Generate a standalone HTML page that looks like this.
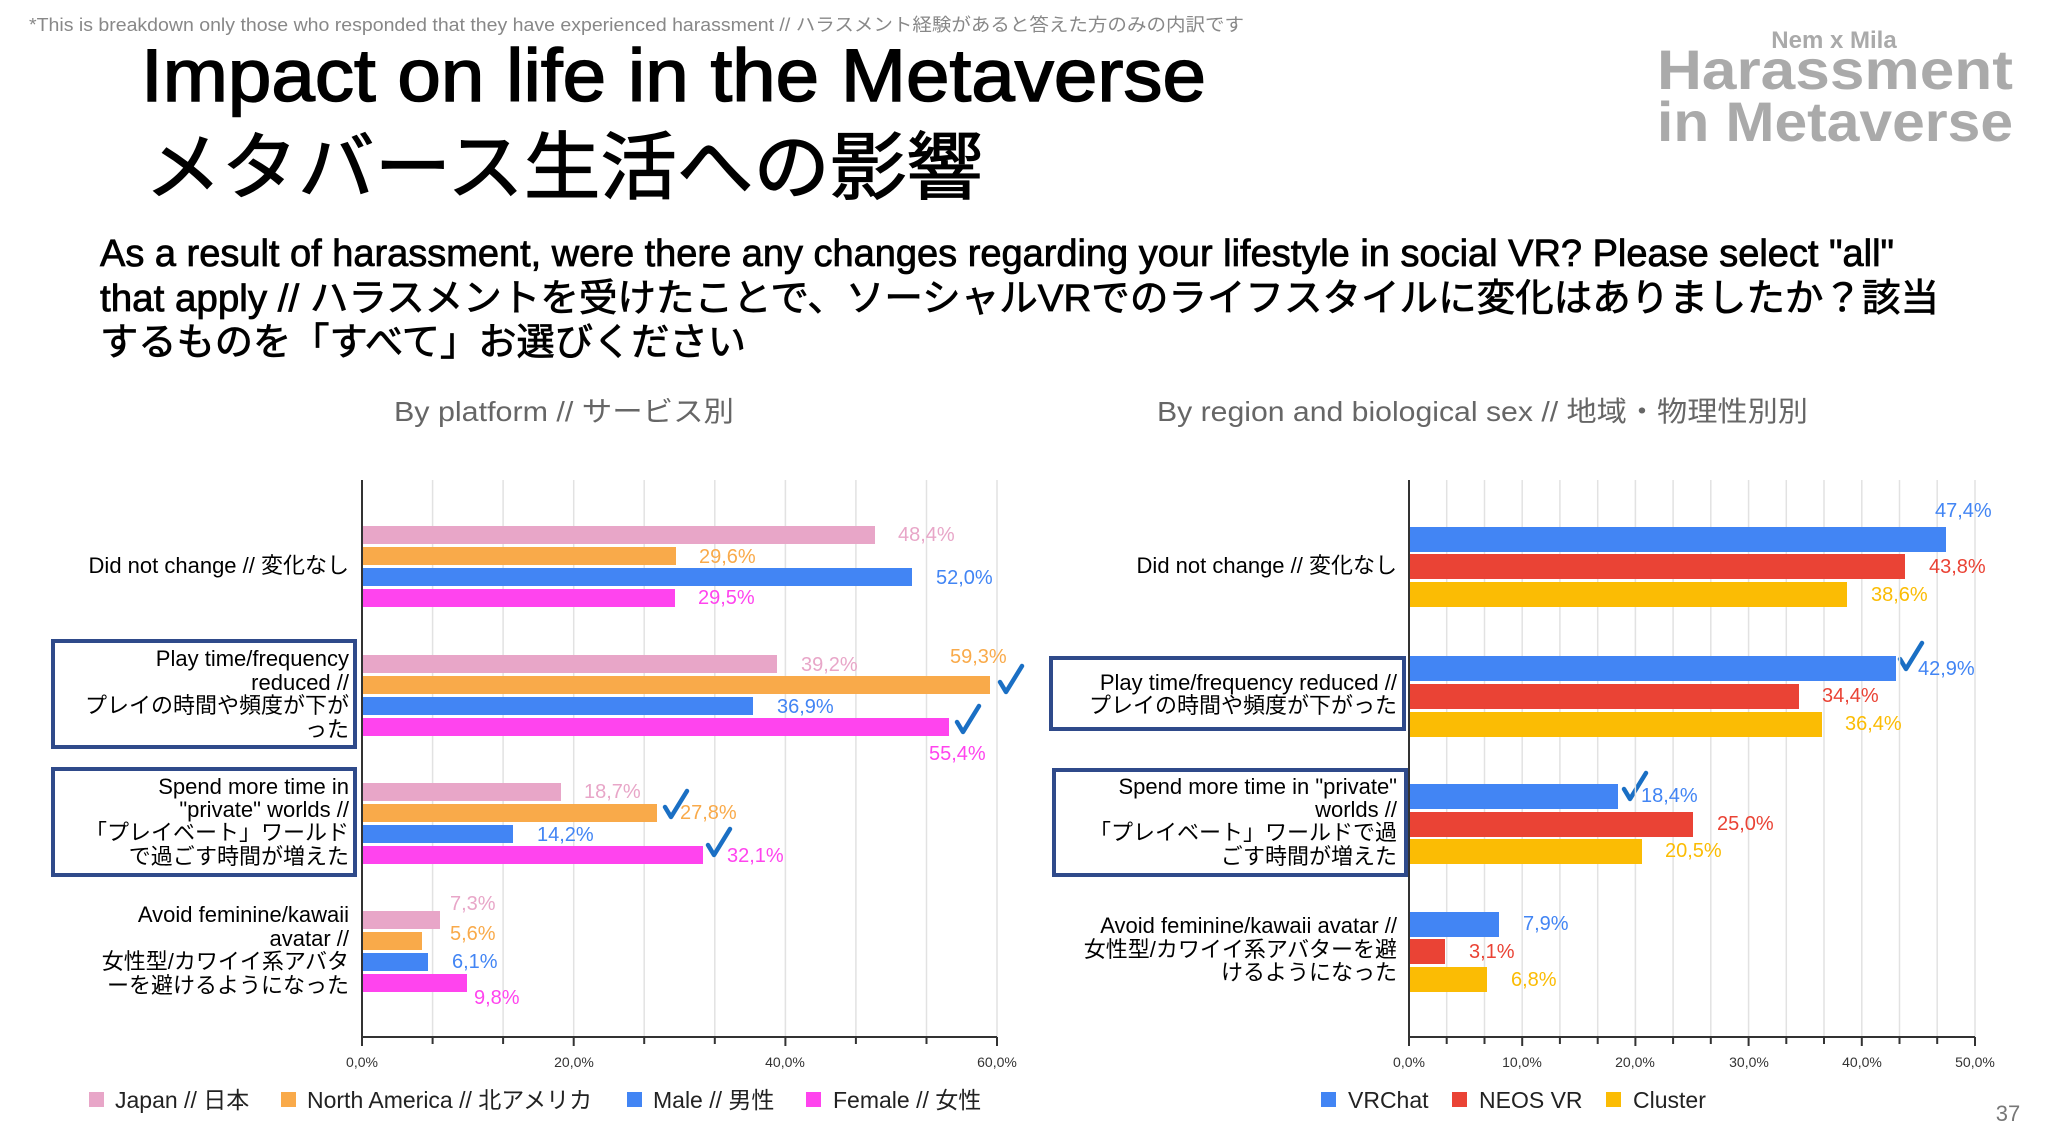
<!DOCTYPE html>
<html><head><meta charset="utf-8"><style>
html,body{margin:0;padding:0;background:#fff;}
svg{display:block;}
text{font-family:"Liberation Sans","Noto Sans CJK JP",sans-serif;}
</style></head><body>
<svg width="2048" height="1146" viewBox="0 0 2048 1146" xmlns="http://www.w3.org/2000/svg">
<rect width="2048" height="1146" fill="#fff"/>
<text x="29" y="31" font-size="18" fill="#888" textLength="1215" lengthAdjust="spacingAndGlyphs">*This is breakdown only those who responded that they have experienced harassment // ハラスメント経験があると答えた方のみの内訳です</text>
<text x="141" y="101" font-size="74" fill="#000" stroke="#000" stroke-width="1.5" textLength="1065" lengthAdjust="spacingAndGlyphs">Impact on life in the Metaverse</text>
<text x="145" y="193" font-size="74" fill="#000" stroke="#000" stroke-width="1.2" textLength="838" lengthAdjust="spacingAndGlyphs">メタバース生活への影響</text>
<g stroke="#000" stroke-width="0.8">
<text x="100" y="266" font-size="38" fill="#000" textLength="1794" lengthAdjust="spacingAndGlyphs">As a result of harassment, were there any changes regarding your lifestyle in social VR? Please select "all"</text>
<text x="100" y="311" font-size="38" fill="#000" textLength="1839" lengthAdjust="spacingAndGlyphs">that apply // ハラスメントを受けたことで、ソーシャルVRでのライフスタイルに変化はありましたか？該当</text>
<text x="100" y="355" font-size="38" fill="#000" textLength="646" lengthAdjust="spacingAndGlyphs">するものを「すべて」お選びください</text>
</g>
<text x="1834" y="48" font-size="24" font-weight="bold" fill="#aaa" text-anchor="middle">Nem x Mila</text>
<text x="1657" y="89" font-size="56" font-weight="bold" fill="#aaa" textLength="356" lengthAdjust="spacingAndGlyphs">Harassment</text>
<text x="1657" y="141" font-size="56" font-weight="bold" fill="#aaa" textLength="356" lengthAdjust="spacingAndGlyphs">in Metaverse</text>
<text x="394" y="421" font-size="28" fill="#666" textLength="340" lengthAdjust="spacingAndGlyphs">By platform // サービス別</text>
<text x="1157" y="421" font-size="28" fill="#666" textLength="651" lengthAdjust="spacingAndGlyphs">By region and biological sex // 地域・物理性別別</text>
<text x="2008" y="1121" font-size="22" fill="#777" text-anchor="middle">37</text>

<g stroke="#e2e2e2" stroke-width="1.5">
<line x1="432.6" y1="480" x2="432.6" y2="1037"/><line x1="503.1" y1="480" x2="503.1" y2="1037"/><line x1="573.7" y1="480" x2="573.7" y2="1037"/><line x1="644.2" y1="480" x2="644.2" y2="1037"/><line x1="714.8" y1="480" x2="714.8" y2="1037"/><line x1="785.4" y1="480" x2="785.4" y2="1037"/><line x1="855.9" y1="480" x2="855.9" y2="1037"/><line x1="926.5" y1="480" x2="926.5" y2="1037"/><line x1="997" y1="480" x2="997" y2="1037"/>
</g>
<g stroke="#333" stroke-width="2">
<line x1="362" y1="480" x2="362" y2="1037"/><line x1="362" y1="1037" x2="997" y2="1037"/>
<line x1="362" y1="1037" x2="362" y2="1046"/><line x1="432.6" y1="1037" x2="432.6" y2="1044"/><line x1="503.1" y1="1037" x2="503.1" y2="1044"/><line x1="573.7" y1="1037" x2="573.7" y2="1046"/><line x1="644.2" y1="1037" x2="644.2" y2="1044"/><line x1="714.8" y1="1037" x2="714.8" y2="1044"/><line x1="785.4" y1="1037" x2="785.4" y2="1046"/><line x1="855.9" y1="1037" x2="855.9" y2="1044"/><line x1="926.5" y1="1037" x2="926.5" y2="1044"/><line x1="997" y1="1037" x2="997" y2="1046"/>
</g>
<g font-size="14" fill="#333" text-anchor="middle">
<text x="362" y="1067">0,0%</text><text x="574" y="1067">20,0%</text><text x="785" y="1067">40,0%</text><text x="997" y="1067">60,0%</text>
</g>
<g>
<rect x="363" y="526" width="512" height="18" fill="#e8a6c8"/>
<rect x="363" y="547" width="313" height="18" fill="#f9aa4a"/>
<rect x="363" y="568" width="549" height="18" fill="#4285f4"/>
<rect x="363" y="589" width="312" height="18" fill="#ff44ee"/>
<rect x="363" y="655" width="414" height="18" fill="#e8a6c8"/>
<rect x="363" y="676" width="627" height="18" fill="#f9aa4a"/>
<rect x="363" y="697" width="390" height="18" fill="#4285f4"/>
<rect x="363" y="718" width="586" height="18" fill="#ff44ee"/>
<rect x="363" y="783" width="198" height="18" fill="#e8a6c8"/>
<rect x="363" y="804" width="294" height="18" fill="#f9aa4a"/>
<rect x="363" y="825" width="150" height="18" fill="#4285f4"/>
<rect x="363" y="846" width="340" height="18" fill="#ff44ee"/>
<rect x="363" y="911" width="77" height="18" fill="#e8a6c8"/>
<rect x="363" y="932" width="59" height="18" fill="#f9aa4a"/>
<rect x="363" y="953" width="65" height="18" fill="#4285f4"/>
<rect x="363" y="974" width="104" height="18" fill="#ff44ee"/>
</g>
<g font-size="20">
<text x="898" y="541" fill="#e8a6c8">48,4%</text>
<text x="699" y="563" fill="#f9aa4a">29,6%</text>
<text x="936" y="584" fill="#4285f4">52,0%</text>
<text x="698" y="604" fill="#ff44ee">29,5%</text>
<text x="801" y="671" fill="#e8a6c8">39,2%</text>
<text x="950" y="663" fill="#f9aa4a">59,3%</text>
<text x="777" y="713" fill="#4285f4">36,9%</text>
<text x="929" y="760" fill="#ff44ee">55,4%</text>
<text x="584" y="798" fill="#e8a6c8">18,7%</text>
<text x="680" y="819" fill="#f9aa4a">27,8%</text>
<text x="537" y="841" fill="#4285f4">14,2%</text>
<text x="727" y="862" fill="#ff44ee">32,1%</text>
<text x="450" y="910" fill="#e8a6c8">7,3%</text>
<text x="450" y="940" fill="#f9aa4a">5,6%</text>
<text x="452" y="968" fill="#4285f4">6,1%</text>
<text x="474" y="1004" fill="#ff44ee">9,8%</text>
</g>
<g fill="none" stroke="#1a6fc4" stroke-width="4.5" stroke-linecap="round" stroke-linejoin="round">
<path d="M1000 682 L1006 692 L1022 666"/>
<path d="M957 722 L963 732 L979 706"/>
<path d="M665 807 L671 817 L687 791"/>
<path d="M708 845 L714 855 L730 829"/>
<path d="M1900 659 L1906 669 L1922 643"/>
<path d="M1624 789 L1630 799 L1646 773"/>
</g>
<rect x="53" y="641" width="302" height="106" fill="none" stroke="#2f4a8a" stroke-width="4"/>
<rect x="53" y="769" width="302" height="106" fill="none" stroke="#2f4a8a" stroke-width="4"/>
<g font-size="22" fill="#000" text-anchor="end">
<text x="349" y="573">Did not change // 変化なし</text>
<text x="349" y="666">Play time/frequency</text>
<text x="349" y="690">reduced //</text>
<text x="349" y="713">プレイの時間や頻度が下が</text>
<text x="349" y="737">った</text>
<text x="349" y="794">Spend more time in</text>
<text x="349" y="817">"private" worlds //</text>
<text x="349" y="840">「プレイベート」ワールド</text>
<text x="349" y="864">で過ごす時間が増えた</text>
<text x="349" y="922">Avoid feminine/kawaii</text>
<text x="349" y="946">avatar //</text>
<text x="349" y="969">女性型/カワイイ系アバタ</text>
<text x="349" y="993">ーを避けるようになった</text>
</g>
<g font-size="23" fill="#222">
<rect x="89" y="1092" width="15" height="15" fill="#e8a6c8"/><text x="115" y="1108">Japan // 日本</text>
<rect x="281" y="1092" width="15" height="15" fill="#f9aa4a"/><text x="307" y="1108">North America // 北アメリカ</text>
<rect x="627" y="1092" width="15" height="15" fill="#4285f4"/><text x="653" y="1108">Male // 男性</text>
<rect x="806" y="1092" width="15" height="15" fill="#ff44ee"/><text x="833" y="1108">Female // 女性</text>
</g>

<g stroke="#e2e2e2" stroke-width="1.5">
<line x1="1446.7" y1="480" x2="1446.7" y2="1037"/><line x1="1484.5" y1="480" x2="1484.5" y2="1037"/><line x1="1522.2" y1="480" x2="1522.2" y2="1037"/><line x1="1559.9" y1="480" x2="1559.9" y2="1037"/><line x1="1597.7" y1="480" x2="1597.7" y2="1037"/><line x1="1635.4" y1="480" x2="1635.4" y2="1037"/><line x1="1673.1" y1="480" x2="1673.1" y2="1037"/><line x1="1710.8" y1="480" x2="1710.8" y2="1037"/><line x1="1748.6" y1="480" x2="1748.6" y2="1037"/><line x1="1786.3" y1="480" x2="1786.3" y2="1037"/><line x1="1824" y1="480" x2="1824" y2="1037"/><line x1="1861.8" y1="480" x2="1861.8" y2="1037"/><line x1="1899.5" y1="480" x2="1899.5" y2="1037"/><line x1="1937.2" y1="480" x2="1937.2" y2="1037"/><line x1="1975" y1="480" x2="1975" y2="1037"/>
</g>
<g stroke="#333" stroke-width="2">
<line x1="1409" y1="480" x2="1409" y2="1037"/><line x1="1409" y1="1037" x2="1975" y2="1037"/>
<line x1="1409" y1="1037" x2="1409" y2="1046"/><line x1="1446.7" y1="1037" x2="1446.7" y2="1044"/><line x1="1484.5" y1="1037" x2="1484.5" y2="1044"/><line x1="1522.2" y1="1037" x2="1522.2" y2="1046"/><line x1="1559.9" y1="1037" x2="1559.9" y2="1044"/><line x1="1597.7" y1="1037" x2="1597.7" y2="1044"/><line x1="1635.4" y1="1037" x2="1635.4" y2="1046"/><line x1="1673.1" y1="1037" x2="1673.1" y2="1044"/><line x1="1710.8" y1="1037" x2="1710.8" y2="1044"/><line x1="1748.6" y1="1037" x2="1748.6" y2="1046"/><line x1="1786.3" y1="1037" x2="1786.3" y2="1044"/><line x1="1824" y1="1037" x2="1824" y2="1044"/><line x1="1861.8" y1="1037" x2="1861.8" y2="1046"/><line x1="1899.5" y1="1037" x2="1899.5" y2="1044"/><line x1="1937.2" y1="1037" x2="1937.2" y2="1044"/><line x1="1975" y1="1037" x2="1975" y2="1046"/>
</g>
<g font-size="14" fill="#333" text-anchor="middle">
<text x="1409" y="1067">0,0%</text><text x="1522" y="1067">10,0%</text><text x="1635" y="1067">20,0%</text><text x="1749" y="1067">30,0%</text><text x="1862" y="1067">40,0%</text><text x="1975" y="1067">50,0%</text>
</g>
<g>
<rect x="1410" y="527" width="536" height="25" fill="#4285f4"/>
<rect x="1410" y="554" width="495" height="25" fill="#ea4335"/>
<rect x="1410" y="582" width="437" height="25" fill="#fbbc04"/>
<rect x="1410" y="656" width="486" height="25" fill="#4285f4"/>
<rect x="1410" y="684" width="389" height="25" fill="#ea4335"/>
<rect x="1410" y="712" width="412" height="25" fill="#fbbc04"/>
<rect x="1410" y="784" width="208" height="25" fill="#4285f4"/>
<rect x="1410" y="812" width="283" height="25" fill="#ea4335"/>
<rect x="1410" y="839" width="232" height="25" fill="#fbbc04"/>
<rect x="1410" y="912" width="89" height="25" fill="#4285f4"/>
<rect x="1410" y="939" width="35" height="25" fill="#ea4335"/>
<rect x="1410" y="967" width="77" height="25" fill="#fbbc04"/>
</g>
<g font-size="20">
<text x="1935" y="517" fill="#4285f4">47,4%</text>
<text x="1929" y="573" fill="#ea4335">43,8%</text>
<text x="1871" y="601" fill="#fbbc04">38,6%</text>
<text x="1918" y="675" fill="#4285f4">42,9%</text>
<text x="1822" y="702" fill="#ea4335">34,4%</text>
<text x="1845" y="730" fill="#fbbc04">36,4%</text>
<text x="1641" y="802" fill="#4285f4">18,4%</text>
<text x="1717" y="830" fill="#ea4335">25,0%</text>
<text x="1665" y="857" fill="#fbbc04">20,5%</text>
<text x="1523" y="930" fill="#4285f4">7,9%</text>
<text x="1469" y="958" fill="#ea4335">3,1%</text>
<text x="1511" y="986" fill="#fbbc04">6,8%</text>
</g>
<rect x="1051" y="658" width="353" height="71" fill="none" stroke="#2f4a8a" stroke-width="4"/>
<rect x="1054" y="770" width="352" height="105" fill="none" stroke="#2f4a8a" stroke-width="4"/>
<g font-size="22" fill="#000" text-anchor="end">
<text x="1397" y="573">Did not change // 変化なし</text>
<text x="1397" y="690">Play time/frequency reduced //</text>
<text x="1397" y="713">プレイの時間や頻度が下がった</text>
<text x="1397" y="794">Spend more time in "private"</text>
<text x="1397" y="817">worlds //</text>
<text x="1397" y="840">「プレイベート」ワールドで過</text>
<text x="1397" y="864">ごす時間が増えた</text>
<text x="1397" y="933">Avoid feminine/kawaii avatar //</text>
<text x="1397" y="957">女性型/カワイイ系アバターを避</text>
<text x="1397" y="980">けるようになった</text>
</g>
<g font-size="23" fill="#222">
<rect x="1321" y="1092" width="15" height="15" fill="#4285f4"/><text x="1348" y="1108">VRChat</text>
<rect x="1452" y="1092" width="15" height="15" fill="#ea4335"/><text x="1479" y="1108">NEOS VR</text>
<rect x="1606" y="1092" width="15" height="15" fill="#fbbc04"/><text x="1633" y="1108">Cluster</text>
</g>
</svg>
</body></html>
